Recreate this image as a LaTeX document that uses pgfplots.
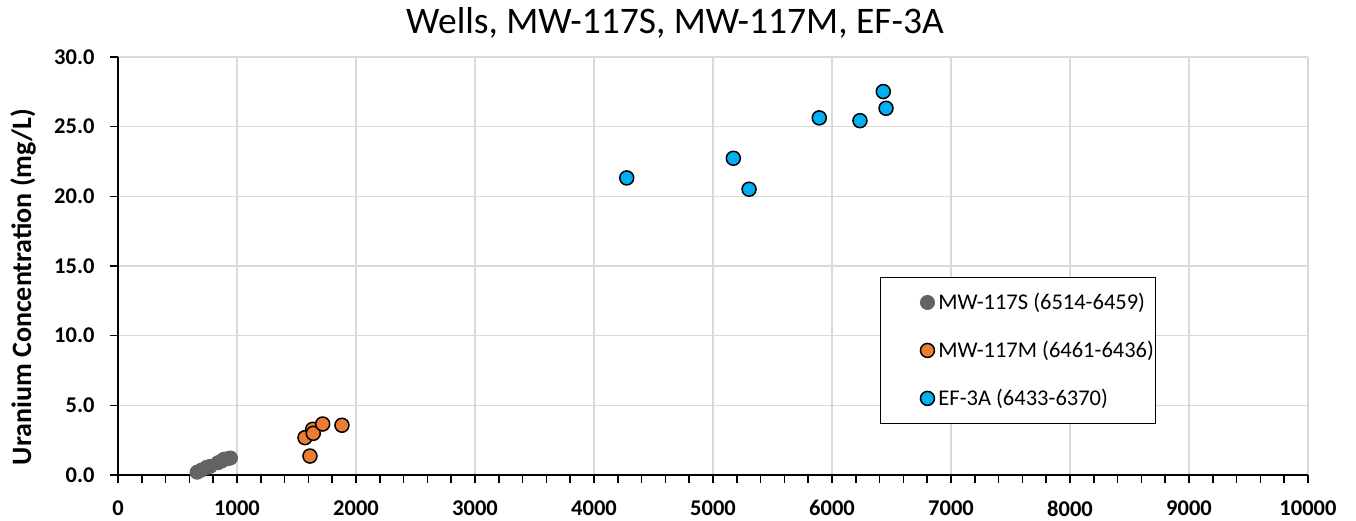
\documentclass[border=0pt]{standalone}
\usepackage{pgfplots}
\pgfplotsset{compat=1.18}
\usepackage{fontspec}
\setmainfont{Carlito}
\definecolor{cgray}{RGB}{99,99,99}
\definecolor{corange}{RGB}{237,125,49}
\definecolor{cblue}{RGB}{0,176,240}
\definecolor{cgrid}{RGB}{217,217,217}
\begin{document}
\begin{tikzpicture}
\useasboundingbox (-118pt,-46pt) rectangle (1238pt,475pt);
\begin{axis}[
  at={(0,0)}, anchor=south west,
  scale only axis, width=1190pt, height=418pt,
  xmin=0, xmax=10000, ymin=0, ymax=30,
  xtick={0,1000,...,10000}, ytick={0,5,...,30},
  scaled x ticks=false,
  minor x tick num=4,
  axis x line*=bottom, axis y line*=left,
  axis line style={line width=2pt, black, -},
  grid=major, major grid style={cgrid, line width=1.5pt},
  tick align=outside,
  major tick length=8pt, minor tick length=8pt,
  tick style={black, line width=1.5pt},
  /pgf/number format/assume math mode=true,
  xticklabel style={font=\fontsize{22.5}{26}\selectfont\bfseries, /pgf/number format/1000 sep={}, yshift=-14pt},
  yticklabel style={font=\fontsize{22.5}{26}\selectfont\bfseries, /pgf/number format/fixed, /pgf/number format/precision=1, /pgf/number format/fixed zerofill, xshift=-12pt},
  ylabel={Uranium Concentration (mg/L)},
  ylabel style={font=\fontsize{28}{31}\selectfont\bfseries, at={(axis description cs:-0.0798,0.45)}, anchor=center},
  title={Wells, MW-117S, MW-117M, EF-3A},
  title style={font=\fontsize{37.5}{42}\selectfont, at={(0.468,1)}, anchor=base, yshift=17pt},
  legend style={at={(0.6403,0.4737)}, anchor=north west, draw=black, line width=1pt,
    font=\fontsize{22.5}{26}\selectfont, inner xsep=0pt, inner ysep=14pt, row sep=26pt,
    legend cell align=left},
  legend image code/.code={\path[draw=none,fill=none] (-47pt,0) -- (9pt,0); \draw[#1] plot coordinates {(0pt,0pt)};},
]
\addplot[only marks, mark=*, mark size=7pt, draw=cgray, fill=cgray, mark options={line width=1pt}] coordinates {
(665,0.2) (700,0.35) (745,0.55) (775,0.62) (840,0.88) (870,1.0) (890,1.13) (925,1.18) (945,1.22)
};
\addlegendentry{MW-117S (6514-6459)}
\addplot[only marks, mark=*, mark size=7pt, draw=black, fill=corange, mark options={line width=1.5pt}] coordinates {
(1571,2.68) (1613,1.36) (1636,3.28) (1641,2.99) (1720,3.66) (1882,3.57)
};
\addlegendentry{MW-117M (6461-6436)}
\addplot[only marks, mark=*, mark size=7pt, draw=black, fill=cblue, mark options={line width=1.5pt}] coordinates {
(4275,21.32) (5171,22.73) (5303,20.51) (5893,25.63) (6235,25.43) (6431,27.52) (6454,26.32)
};
\addlegendentry{EF-3A (6433-6370)}
\end{axis}
\end{tikzpicture}
\end{document}
